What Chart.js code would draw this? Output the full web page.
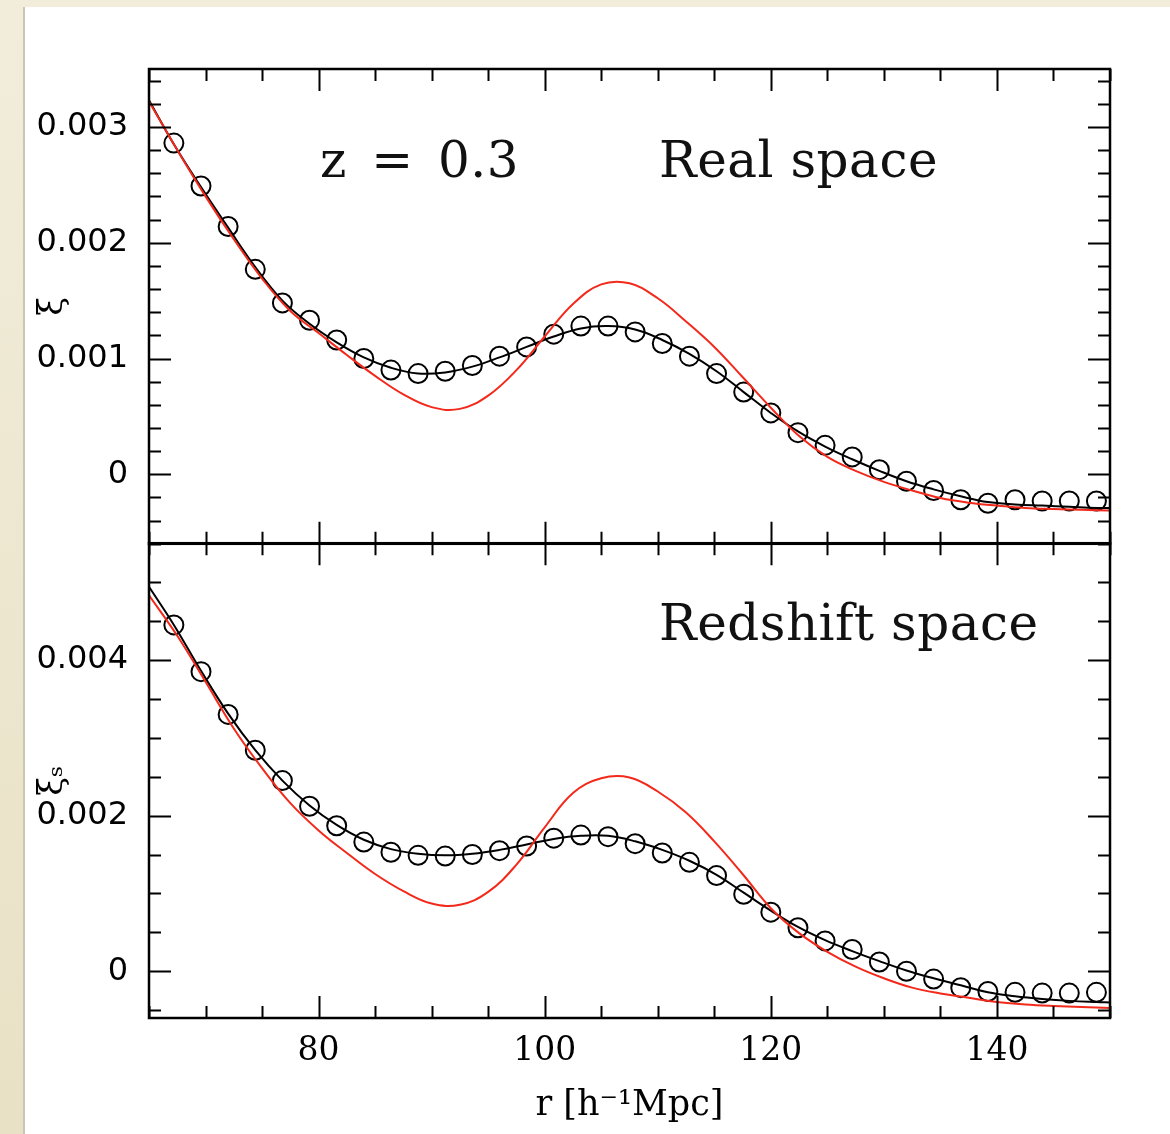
<!DOCTYPE html>
<html>
<head>
<meta charset="utf-8">
<title>Correlation function, z = 0.3</title>
<script src="https://cdn.jsdelivr.net/npm/chart.js@4.4.1/dist/chart.umd.min.js"></script>
<style>
  html, body { margin: 0; padding: 0; }
  body {
    width: 1170px; height: 1134px; overflow: hidden; position: relative;
    background: linear-gradient(to bottom, #f2eddb, #e8e1c5);
  }
  #sheet {
    position: absolute; left: 23px; top: 7px; right: 0; bottom: 0;
    background: #fff; border-left: 2px solid #cbc6b4;
  }
  canvas { position: absolute; left: 0; }
  #realChart { top: 0; }
  #redChart { top: 503px; }
  .note {
    position: absolute; font-family: 'DejaVu Serif', serif; font-size: 50px;
    line-height: 50px; color: #111; white-space: pre; letter-spacing: 0.5px;
  }
</style>
</head>
<body>
<div id="sheet"></div>
<canvas id="realChart" width="1170" height="584"></canvas>
<canvas id="redChart" width="1170" height="631"></canvas>
<div class="note" style="left:320px; top:135px; word-spacing:8px;">z = 0.3</div>
<div class="note" style="left:659px; top:135px;">Real space</div>
<div class="note" style="left:659px; top:598px;">Redshift space</div>
<script>
/* ── measured bins (open circles) ── */
const rBins = [67.2, 69.6, 72.0, 74.4, 76.8, 79.2, 81.6, 84.0, 86.4, 88.8, 91.2, 93.6,
  96.0, 98.4, 100.8, 103.2, 105.6, 108.0, 110.4, 112.8, 115.2, 117.6, 120.0, 122.4,
  124.8, 127.2, 129.6, 132.0, 134.4, 136.8, 139.2, 141.6, 144.0, 146.4, 148.8];

const xiRealMeasured = [0.00286, 0.00249, 0.00214, 0.00177, 0.00148, 0.00133, 0.00116,
  0.00100, 0.00090, 0.00087, 0.00089, 0.00094, 0.00102, 0.00110, 0.00121, 0.00128,
  0.00128, 0.00123, 0.00113, 0.00102, 0.00087, 0.00071, 0.00053, 0.00036, 0.00025,
  0.00015, 0.00004, -0.00006, -0.00014, -0.00022, -0.00025, -0.00022, -0.00023,
  -0.00023, -0.00023];

const xiRedMeasured = [0.00445, 0.00385, 0.00330, 0.00284, 0.00245, 0.00212, 0.00187,
  0.00166, 0.00153, 0.00149, 0.00148, 0.00150, 0.00155, 0.00161, 0.00171, 0.00175,
  0.00173, 0.00164, 0.00152, 0.00140, 0.00123, 0.00099, 0.00076, 0.00056, 0.00039,
  0.00028, 0.00012, 0.00000, -0.00010, -0.00021, -0.00026, -0.00027, -0.00028,
  -0.00028, -0.00027];

/* ── non-linear model (black curve) ── */
const rModel = [65, 67.2, 69.6, 72.0, 74.4, 76.8, 79.2, 81.6, 84.0, 86.4, 88.8, 91.2,
  93.6, 96.0, 98.4, 100.8, 103.2, 105.6, 108.0, 110.4, 112.8, 115.2, 117.6, 120.0,
  122.4, 124.8, 127.2, 129.6, 132.0, 134.4, 136.8, 139.2, 141.6, 144.0, 146.4, 148.8, 150];

const xiRealModel = [0.00323, 0.00285, 0.00248, 0.00213, 0.00179, 0.00150, 0.00130,
  0.00114, 0.00101, 0.00092, 0.00087, 0.00088, 0.00093, 0.00101, 0.00110, 0.00119,
  0.00126, 0.00128, 0.00125, 0.00116, 0.00104, 0.00089, 0.00071, 0.00053, 0.00037,
  0.00024, 0.00013, 0.00003, -0.00006, -0.00013, -0.00019, -0.00024, -0.00026,
  -0.00027, -0.00028, -0.00029, -0.00029];

const xiRedModel = [0.00494, 0.00445, 0.00386, 0.00331, 0.00284, 0.00245, 0.00213,
  0.00188, 0.00169, 0.00157, 0.00151, 0.00149, 0.00151, 0.00156, 0.00163, 0.00170,
  0.00174, 0.00174, 0.00167, 0.00156, 0.00142, 0.00124, 0.00101, 0.00078, 0.00057,
  0.00040, 0.00026, 0.00013, 0.00001, -0.00009, -0.00018, -0.00027, -0.00032,
  -0.000355, -0.00038, -0.000395, -0.00040];

/* ── linear theory (red curve) ── */
const rLinear = [65, 67.5, 70, 72.5, 75, 77.5, 80, 82.5, 85, 87.5, 90, 92.5, 95, 97.5,
  100, 102.5, 105, 107.5, 110, 112.5, 115, 117.5, 120, 122.5, 125, 127.5, 130, 132.5,
  135, 137.5, 140, 142.5, 145, 147.5, 150];

const xiRealLinear = [0.00322, 0.00280, 0.00240, 0.00203, 0.00169, 0.00141, 0.00122,
  0.00103, 0.00085, 0.00069, 0.00058, 0.000565, 0.00068, 0.00090, 0.00119, 0.00147,
  0.00164, 0.00165, 0.00152, 0.00132, 0.00110, 0.00084, 0.000575, 0.00033, 0.00015,
  0.00003, -0.000065, -0.00014, -0.000205, -0.000245, -0.00027, -0.00029, -0.00030,
  -0.000307, -0.000312];

const xiRedLinear = [0.00483, 0.00431, 0.00372, 0.00312, 0.00261, 0.00216, 0.00181,
  0.00152, 0.00125, 0.00103, 0.00087, 0.000855, 0.00102, 0.00137, 0.00185, 0.00229,
  0.00248, 0.00249, 0.00231, 0.00204, 0.00167, 0.00125, 0.00081, 0.00049, 0.00025,
  0.00006, -0.00009, -0.00021, -0.000285, -0.00034, -0.000395, -0.000425, -0.000445,
  -0.00046, -0.00047];

/* ── axis labels ── */
const xTickLabels = [80, 100, 120, 140];
const yRealTickLabels = [0, 0.001, 0.002, 0.003];
const yRedTickLabels = [0, 0.002, 0.004];

const RED = '#f2291b';
const INK = '#000';

const toXY = (xs, ys) => xs.map((x, i) => ({ x, y: ys[i] }));

/* inward ticks on all four sides + frame */
const frameTicks = {
  id: 'frameTicks',
  afterDatasetsDraw(chart, args, o) {
    const { ctx, chartArea: a, scales: { x, y } } = chart;
    const near = (v, step) => Math.abs(v / step - Math.round(v / step)) < 1e-6;
    ctx.save();
    ctx.strokeStyle = INK;
    ctx.lineWidth = 2;
    ctx.beginPath();
    for (let k = Math.ceil(x.min / o.xMinor); k * o.xMinor <= x.max + 1e-9; k++) {
      const v = k * o.xMinor;
      const px = Math.round(x.getPixelForValue(v)) + 0.5;
      const len = near(v, o.xMajor) ? 22 : 12;
      ctx.moveTo(px, a.bottom); ctx.lineTo(px, a.bottom - len);
      ctx.moveTo(px, a.top); ctx.lineTo(px, a.top + len);
    }
    for (let k = Math.ceil(y.min / o.yMinor - 1e-6); k * o.yMinor <= y.max + 1e-12; k++) {
      const v = k * o.yMinor;
      const py = Math.round(y.getPixelForValue(v)) + 0.5;
      const len = near(v, o.yMajor) ? 22 : 12;
      ctx.moveTo(a.left, py); ctx.lineTo(a.left + len, py);
      ctx.moveTo(a.right, py); ctx.lineTo(a.right - len, py);
    }
    ctx.stroke();
    ctx.lineWidth = 2.5;
    ctx.strokeRect(a.left, a.top, a.right - a.left, a.bottom - a.top);
    ctx.restore();
  }
};

function panel(canvasId, cfg) {
  return new Chart(document.getElementById(canvasId), {
    type: 'scatter',
    data: {
      datasets: [
        {
          data: toXY(rLinear, cfg.linear), showLine: true, borderColor: RED,
          borderWidth: 2, pointRadius: 0, tension: 0.4
        },
        {
          data: toXY(rModel, cfg.model), showLine: true, borderColor: INK,
          borderWidth: 2, pointRadius: 0, tension: 0.4
        },
        {
          data: toXY(rBins, cfg.measured), showLine: false, pointStyle: 'circle',
          pointRadius: 9.5, borderColor: INK, borderWidth: 2,
          backgroundColor: 'rgba(0,0,0,0)'
        }
      ]
    },
    options: {
      responsive: false,
      animation: false,
      devicePixelRatio: 1,
      layout: { padding: cfg.padding },
      plugins: {
        legend: { display: false },
        tooltip: { enabled: false },
        frameTicks: { xMinor: 5, xMajor: 20, yMinor: cfg.yMinor, yMajor: cfg.yMajor }
      },
      scales: {
        x: {
          type: 'linear', min: 65, max: 150, bounds: 'data',
          display: cfg.showX,
          grid: { display: false, drawTicks: false },
          border: { display: false },
          afterBuildTicks: s => { s.ticks = xTickLabels.map(v => ({ value: v })); },
          afterFit: s => { if (cfg.showX) s.height = 116; },
          ticks: {
            autoSkip: false, maxRotation: 0, padding: 14, color: INK,
            font: { family: "'DejaVu Serif', serif", size: 33 }
          },
          title: {
            display: cfg.showX, text: 'r [h⁻¹Mpc]', color: INK,
            padding: { top: 0, bottom: 7 },
            font: { family: "'DejaVu Serif', serif", size: 35 }
          }
        },
        y: {
          type: 'linear', min: cfg.yMin, max: cfg.yMax, bounds: 'data',
          grid: { display: false, drawTicks: false },
          border: { display: false },
          afterBuildTicks: s => { s.ticks = cfg.yTicks.map(v => ({ value: v })); },
          afterFit: s => { s.width = 124; },
          ticks: {
            autoSkip: false, padding: 21, color: INK,
            font: { family: "'DejaVu Sans', sans-serif", size: 32 },
            callback: v => (v === 0 ? '0' : v.toFixed(3))
          },
          title: {
            display: true, text: cfg.yTitle, color: INK,
            padding: { top: 8, bottom: 0 },
            font: { family: "'DejaVu Serif', serif", size: 34 }
          }
        }
      }
    },
    plugins: [frameTicks]
  });
}

panel('realChart', {
  linear: xiRealLinear, model: xiRealModel, measured: xiRealMeasured,
  yMin: -0.0006, yMax: 0.0035, yMinor: 0.0002, yMajor: 0.001,
  yTicks: yRealTickLabels, yTitle: 'ξ', showX: false,
  padding: { left: 25, top: 69, right: 60, bottom: 17 }
});

panel('redChart', {
  linear: xiRedLinear, model: xiRedModel, measured: xiRedMeasured,
  yMin: -0.0006, yMax: 0.0055, yMinor: 0.0005, yMajor: 0.002,
  yTicks: yRedTickLabels, yTitle: 'ξₛ', showX: true,
  padding: { left: 25, top: 13, right: 60, bottom: 0 }
});
</script>
</body>
</html>
